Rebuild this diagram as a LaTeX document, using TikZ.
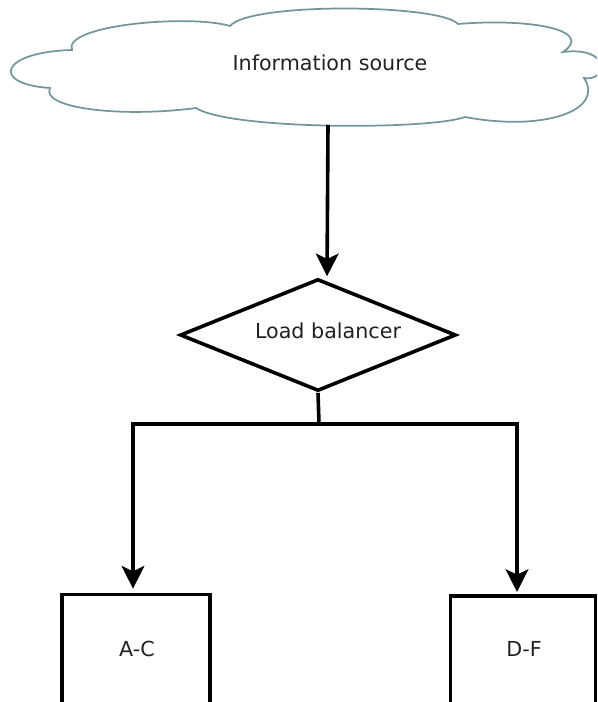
\documentclass[tikz,border=0pt]{standalone}
\usepackage{fontspec}
\setmainfont{DejaVu Sans}
\usetikzlibrary{shapes.geometric,arrows.meta}
\definecolor{cloudline}{RGB}{115,150,155}
\definecolor{txt}{RGB}{34,34,34}
\tikzset{
  lbl/.style={text=txt,font=\fontsize{15.5}{18}\selectfont,inner sep=0pt},
  blk/.style={draw=black,line width=2.7pt},
  conn/.style={draw=black,line width=2.7pt,line join=miter},
  arr/.style={conn,-{Stealth[length=17pt,width=17pt,inset=4pt]}},
  boxnode/.style={blk,rectangle,inner sep=0pt},
}
\begin{document}
\begin{tikzpicture}[x=0.75pt,y=-0.75pt]
\useasboundingbox (0,0) rectangle (597,702);
\clip (0,0) rectangle (597,702);
\fill[white] (0,0) rectangle (597,702);
% cloud
\draw[cloudline,line width=1.3pt,fill=white]
  (72,50) .. controls (62,25) and (190,14) .. (230,26)
  .. controls (250,2) and (440,4) .. (458,24)
  .. controls (530,18) and (595,30) .. (563,52)
  .. controls (612,46) and (608,82) .. (584,78)
  .. controls (605,110) and (545,132) .. (465,117)
  .. controls (430,130) and (230,130) .. (196,108)
  .. controls (120,118) and (40,108) .. (50,88)
  .. controls (-10,84) and (0,52) .. (72,50) -- cycle;
\node[lbl] (srctext) at (330,63) {Information source};
\coordinate (srcbot) at (328,125);
% load balancer
\node[blk,diamond,minimum width=207pt,minimum height=84pt,inner sep=0pt] (lb) at (318,335) {};
\node[lbl] (lbtext) at (328,331) {Load balancer};
% boxes
\node[boxnode,minimum width=111pt,minimum height=82pt] (ac) at (136,649) {};
\node[lbl] (actext) at (137,649) {A-C};
\node[boxnode,minimum width=109pt,minimum height=81pt] (df) at (523,650) {};
\node[lbl] (dftext) at (524,649) {D-F};
% connectors
\coordinate (lbin) at (327,279);
\coordinate (split) at (319,424);
\coordinate (acin) at (133,594);
\coordinate (dfin) at (517,596);
\draw[arr,shorten >=2pt] (srcbot) -- (lbin);
\draw[conn] (lb.south) -- (split);
\draw[arr,shorten >=4pt] (split) -| (acin);
\draw[arr,shorten >=3pt] (split) -| (dfin);
\end{tikzpicture}
\end{document}
